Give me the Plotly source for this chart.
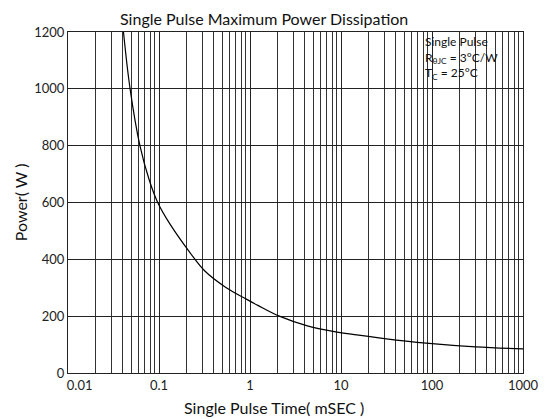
import plotly.graph_objects as go

# Curve (pulse time in ms, power in W)
pulse_time_ms = [0.0407, 0.0481, 0.0617, 0.0778, 0.0968, 0.1285, 0.221, 0.321,
                 0.538, 0.912, 1.22, 2.10, 4.27, 9.05, 14.9, 40.6, 79.8, 301, 1000]
power_w = [1200, 1000, 800, 681, 600, 530, 422, 358,
           302, 260, 238, 200, 166, 144, 134, 116, 106, 92, 85]

x_tick_vals = [0.01, 0.1, 1, 10, 100, 1000]
x_tick_text = ["\u00a0\u00a0\u00a0\u00a0\u00a0\u00a0\u00a00.01", "0.1", "1", "10", "100", "1000"]
y_tick_vals = [0, 200, 400, 600, 800, 1000, 1200]

FONT = "Lato, 'Open Sans', sans-serif"

fig = go.Figure()
fig.add_trace(go.Scatter(
    x=pulse_time_ms, y=power_w, mode="lines",
    line=dict(color="black", width=1.2, shape="spline", smoothing=1),
    showlegend=False, hoverinfo="skip",
))

# page body has an 8px margin, so the figure is sized to fit the 551x419 window
fig.update_layout(
    width=543, height=411,
    margin=dict(l=60, r=23, t=24, b=46),
    paper_bgcolor="white", plot_bgcolor="white",
    font=dict(family=FONT, size=13, color="#222"),
    xaxis=dict(
        type="log", range=[-2, 3],
        tickvals=x_tick_vals, ticktext=x_tick_text,
        showgrid=True, gridcolor="#222", gridwidth=1,
        minor=dict(dtick="D1", showgrid=True, gridcolor="#333", gridwidth=1, ticks=""),
        showline=True, linecolor="#222", linewidth=1, mirror=True,
        ticks="", zeroline=False,
        tickfont=dict(family=FONT, size=13, color="#222"),
    ),
    yaxis=dict(
        range=[0, 1200], tickvals=y_tick_vals,
        showgrid=True, gridcolor="#222", gridwidth=1,
        showline=True, linecolor="#222", linewidth=1, mirror=True,
        ticks="", zeroline=False,
        tickfont=dict(family=FONT, size=13, color="#222"),
    ),
    annotations=[
        dict(text="Single Pulse Maximum Power Dissipation", xref="paper", yref="paper",
             x=0.43, y=1.0704, xanchor="center", yanchor="top", showarrow=False,
             borderpad=0, font=dict(family=FONT, size=16, color="#111")),
        dict(text="Single Pulse Time( mSEC )", xref="paper", yref="paper",
             x=0.452, y=-0.10, xanchor="center", yanchor="middle", showarrow=False,
             font=dict(family=FONT, size=16, color="#111")),
        dict(text="Power( W )", xref="paper", yref="paper",
             x=-0.104, y=0.5, xanchor="center", yanchor="middle", showarrow=False,
             textangle=-90, font=dict(family=FONT, size=16, color="#111")),
        dict(text="Single Pulse<br>R<sub>θJC</sub> = 3°C/W<br>T<sub>C</sub> = 25°C",
             xref="paper", yref="paper", x=0.783, y=0.997,
             xanchor="left", yanchor="top", align="left", showarrow=False,
             borderpad=0, bgcolor="rgba(0,0,0,0)",
             font=dict(family=FONT, size=12, color="#111")),
    ],
)

fig.write_html("out.html")
